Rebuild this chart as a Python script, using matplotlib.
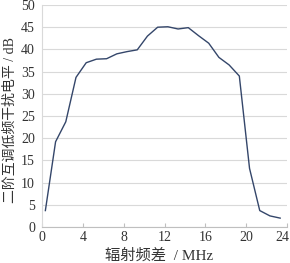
import matplotlib
matplotlib.use("Agg")
import matplotlib.pyplot as plt
from matplotlib.transforms import ScaledTranslation

x_vals = [0.33 + k for k in range(24)]
y_vals = [3.7, 19.2, 23.7, 33.7, 37.0, 37.8, 37.9, 39.0, 39.5, 39.9,
          43.0, 45.0, 45.1, 44.6, 44.9, 43.1, 41.4, 38.2, 36.5, 34.0,
          13.2, 3.7, 2.5, 2.0]
x_ticks = [0, 4, 8, 12, 16, 20, 24]
y_ticks = [0, 5, 10, 15, 20, 25, 30, 35, 40, 45, 50]

fam = ['Liberation Serif', 'Noto Sans CJK SC']
plt.rcParams['font.family'] = fam

fig = plt.figure(figsize=(2.9, 2.63), dpi=100)
ax = fig.add_axes([42/290, 1-227/263, 245/290, 222/263])
ax.plot(x_vals, y_vals, color='#34466a', lw=1.0)
ax.set_xlim(0, 24)
ax.set_ylim(0, 50)
ax.set_xticks(x_ticks)
ax.set_yticks(y_ticks)
ax.yaxis.grid(True, color='#d9d9d9', lw=0.8)
ax.set_axisbelow(True)
for s in ['top', 'right']:
    ax.spines[s].set_visible(False)
ax.spines['left'].set_color('#d9d9d9')
ax.spines['bottom'].set_color('#bfbfbf')
ax.tick_params(axis='x', direction='in', length=3, color='#bfbfbf', labelsize=10, pad=3, labelcolor='#333333')
ax.tick_params(axis='y', length=0, labelsize=10, pad=5, labelcolor='#333333')
# keep the last tick label inside the figure
last = ax.get_xticklabels()[-1]
last.set_transform(last.get_transform() + ScaledTranslation(-5/100, 0, fig.dpi_scale_trans))
ax.set_xlabel('辐射频差  / MHz', fontsize=11, color='#333333', labelpad=4)
ax.xaxis.set_label_coords(0.478, -0.095)
ax.set_ylabel('二阶互调低频干扰电平 / dB', fontsize=10, color='#333333', labelpad=2)
ax.yaxis.set_label_coords(-0.104, 0.48)
fig.savefig('out.png', dpi=100)
